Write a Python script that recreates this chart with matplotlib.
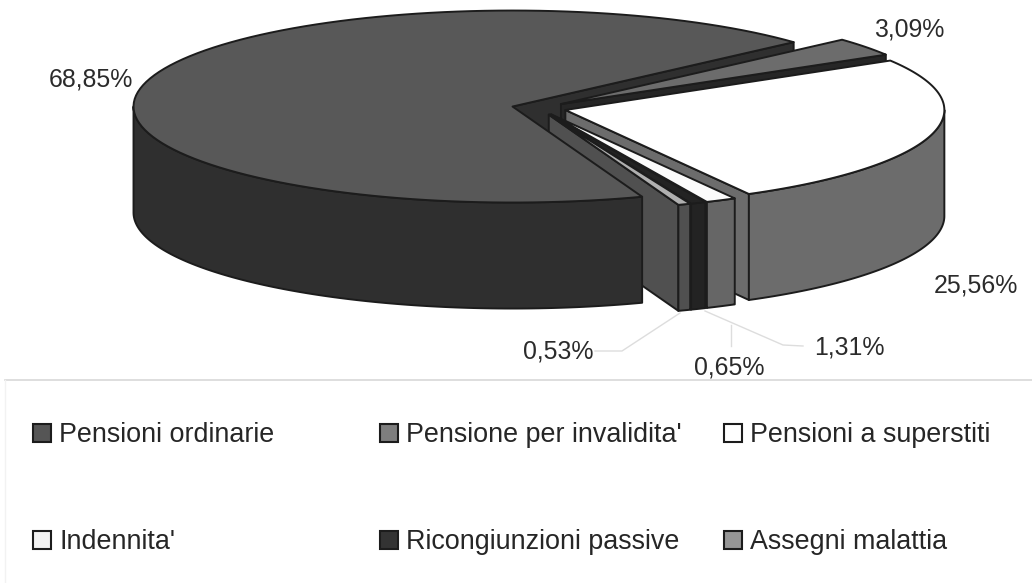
import numpy as np
import matplotlib
matplotlib.use("Agg")
import matplotlib.pyplot as plt
from matplotlib.patches import Polygon, Rectangle

plt.rcParams['font.family'] = ['Liberation Sans', 'DejaVu Sans']

categories = ["Pensioni ordinarie", "Pensione per invalidita'", "Pensioni a superstiti",
              "Indennita'", "Ricongiunzioni passive", "Assegni malattia"]
values = [68.85, 3.09, 25.56, 1.31, 0.65, 0.53]
value_labels = ["68,85%", "3,09%", "25,56%", "1,31%", "0,65%", "0,53%"]

top_colors = ["#585858", "#6c6c6c", "#ffffff", "#fbfbfb", "#232323", "#b0b0b0"]
side_colors = ["#2f2f2f", "#262626", "#6c6c6c", "#666666", "#232323", "#505050"]
legend_colors = ["#555555", "#7e7e7e", "#ffffff", "#f2f2f2", "#333333", "#969696"]

CX, CY = 539.0, 108.2
RX, RY = 379, 96
DEPTH = 106
EXPLODE = 0.072
START = -70.0
EDGE = "#1c1c1c"

fig = plt.figure(figsize=(10.32, 5.83), dpi=100)
ax = fig.add_axes([0, 0, 1, 1])
ax.set_xlim(0, 1032)
ax.set_ylim(583, 0)
ax.axis("off")


def pt(c, ang):
    a = np.radians(ang)
    return np.array([c[0] + RX * np.cos(a), c[1] - RY * np.sin(a)])


def arc(c, a0, a1, n=120):
    a = np.radians(np.linspace(a0, a1, n))
    return np.column_stack([c[0] + RX * np.cos(a), c[1] - RY * np.sin(a)])


def poly(xy, fc, z):
    ax.add_patch(Polygon(xy, closed=True, fc=fc, ec=EDGE, lw=1.4, joinstyle="round", zorder=z))


def draw_slice(i, a_start, a_end, c, z):
    """a_start > a_end: the slice runs clockwise."""
    # radial wall at the clockwise end
    e = pt(c, a_end)
    poly([c, e, e + [0, DEPTH], np.array(c) + [0, DEPTH]], side_colors[i], z)
    # outer wall: the part of the rim in the lower half of the ellipse
    lo, hi = a_end, a_start
    for base in (0, -360):
        l = max(lo, -180 + base)
        h = min(hi, 0 + base)
        if h > l:
            rim = arc(c, h, l)
            poly(np.vstack([rim, (rim + [0, DEPTH])[::-1]]), side_colors[i], z + 0.1)
    # top
    poly(np.vstack([[c], arc(c, a_start, a_end)]), top_colors[i], z + 0.2)


angles = [START]
for v in values:
    angles.append(angles[-1] - v / sum(values) * 360)
centres = []
for i in range(len(values)):
    mid = np.radians((angles[i] + angles[i + 1]) / 2)
    centres.append((CX + EXPLODE * RX * np.cos(mid), CY - EXPLODE * RY * np.sin(mid)))

# first slice: its radial wall goes behind everything, its rim and top in front
c0 = centres[0]
e0 = pt(c0, angles[1])
poly([c0, e0, e0 + [0, DEPTH], np.array(c0) + [0, DEPTH]], side_colors[0], 1)
for i in range(1, len(values)):
    a0, a1 = angles[i] + 360, angles[i + 1] + 360
    draw_slice(i, a0, a1, centres[i], 2 + i)
rim = arc(c0, -180, angles[0])
poly(np.vstack([rim, (rim + [0, DEPTH])[::-1]]), side_colors[0], 20)
poly(np.vstack([[c0], arc(c0, angles[0], angles[1])]), top_colors[0], 21)

# value labels
label_pos = [(91, 79), (909, 29), (976, 285), (849, 347), (729, 368), (558, 352)]
for s, (x, y) in zip(value_labels, label_pos):
    ax.text(x, y, s, fontsize=17.9, color="#2b2b2b", ha="center", va="center", zorder=30)

# faint leader lines
leaders = [[(595, 351), (622, 351), (680, 313)],
           [(731, 346), (731, 325)],
           [(803, 346), (783, 345), (705, 311)]]
for seg in leaders:
    xs, ys = zip(*seg)
    ax.plot(xs, ys, color="#dddddd", lw=1, zorder=2)

# legend frame (very faint)
ax.plot([5, 1032], [380, 380], color="#d8d8d8", lw=1.2, zorder=2)
ax.plot([5, 5], [380, 583], color="#f2f2f2", lw=1, zorder=2)

# legend entries
col_x = [33, 380, 724]
row_y = [433, 540]
for i, name in enumerate(categories):
    x = col_x[i % 3]
    y = row_y[i // 3]
    ax.add_patch(Rectangle((x, y - 9), 18, 18, fc=legend_colors[i], ec="#1c1c1c", lw=1.5, zorder=5))
    ax.text(x + 26, y + 2, name, fontsize=19.4, color="#262626", ha="left", va="center", zorder=5)

fig.savefig("out.png", dpi=100)
